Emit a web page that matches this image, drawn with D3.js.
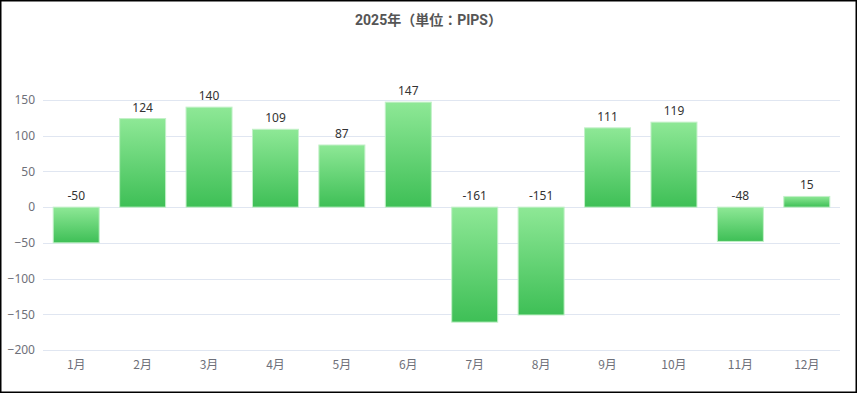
<!DOCTYPE html>
<html><head><meta charset="utf-8">
<script src="https://cdn.jsdelivr.net/npm/d3@7/dist/d3.min.js"></script>
<style>html,body{margin:0;padding:0;background:#fff;}svg{display:block;}</style>
</head><body>
<svg id="c" width="857" height="393"></svg>
<script>
const titleText = "2025年（単位：PIPS）";
const categories = ["1月","2月","3月","4月","5月","6月","7月","8月","9月","10月","11月","12月"];
const values = [-50,124,140,109,87,147,-161,-151,111,119,-48,15];
const yTicks = [-200,-150,-100,-50,0,50,100,150];

const W = 857, H = 393;
const svg = d3.select("#c");
const m = {left:43, right:17, top:100, bottom:43};

const band = d3.scaleBand().domain(categories).range([m.left, W - m.right]);
const y = d3.scaleLinear().domain([-200,150]).range([H - m.bottom, m.top]);

const defs = svg.append("defs");
const g = defs.append("linearGradient").attr("id","grad").attr("x1",0).attr("y1",0).attr("x2",0).attr("y2",1);
g.append("stop").attr("offset","0%").attr("stop-color","#8ee896");
g.append("stop").attr("offset","100%").attr("stop-color","#3ebf56");

svg.append("rect").attr("x",0.75).attr("y",0.75).attr("width",W-1.5).attr("height",H-1.5)
  .attr("fill","#fff").attr("stroke","#000").attr("stroke-width",1.5);

svg.append("text").attr("x",W/2).attr("y",25).attr("text-anchor","middle")
  .attr("font-family","Roboto, 'Noto Sans CJK JP', sans-serif").attr("font-weight","bold")
  .attr("font-size",14).attr("fill","#555").text(titleText);

// grid
svg.append("g").selectAll("line").data(yTicks).join("line")
  .attr("x1",m.left).attr("x2",W-m.right)
  .attr("y1",d=>Math.round(y(d))+0.5).attr("y2",d=>Math.round(y(d))+0.5)
  .attr("stroke","#e0e6f1").attr("stroke-width",1);

// y axis labels
const yAxis = d3.axisLeft(y).tickValues(yTicks).tickSize(0).tickPadding(8);
const ya = svg.append("g").attr("transform",`translate(${m.left},0)`).call(yAxis);
ya.select(".domain").remove();
ya.selectAll("text").attr("font-family","'Microsoft YaHei', 'Noto Sans', sans-serif").attr("font-size",12).attr("fill","#6e7079");

// x axis labels
const xAxis = d3.axisBottom(band).tickSize(0).tickPadding(10);
const xa = svg.append("g").attr("transform",`translate(0,${H-m.bottom})`).call(xAxis);
xa.select(".domain").remove();
xa.selectAll("text").attr("font-family","'Noto Sans CJK JP', sans-serif").attr("font-size",12).attr("fill","#6e7079");

// bars
const bw = 46;
svg.append("g").selectAll("rect").data(values).join("rect")
  .attr("x",(d,i)=>band(categories[i]) + band.bandwidth()/2 - bw/2)
  .attr("y",d=>y(Math.max(0,d)))
  .attr("width",bw)
  .attr("height",d=>Math.abs(y(d)-y(0)))
  .attr("fill","url(#grad)")
  .attr("stroke","#c2f0c8").attr("stroke-width",1);

// labels
svg.append("g").selectAll("text").data(values).join("text")
  .attr("x",(d,i)=>band(categories[i]) + band.bandwidth()/2)
  .attr("y",d=>y(Math.max(0,d)) - 7)
  .attr("text-anchor","middle")
  .attr("font-family","'Microsoft YaHei', 'Noto Sans', sans-serif").attr("font-size",12).attr("fill","#333")
  .text(d=>d);
</script>
</body></html>
